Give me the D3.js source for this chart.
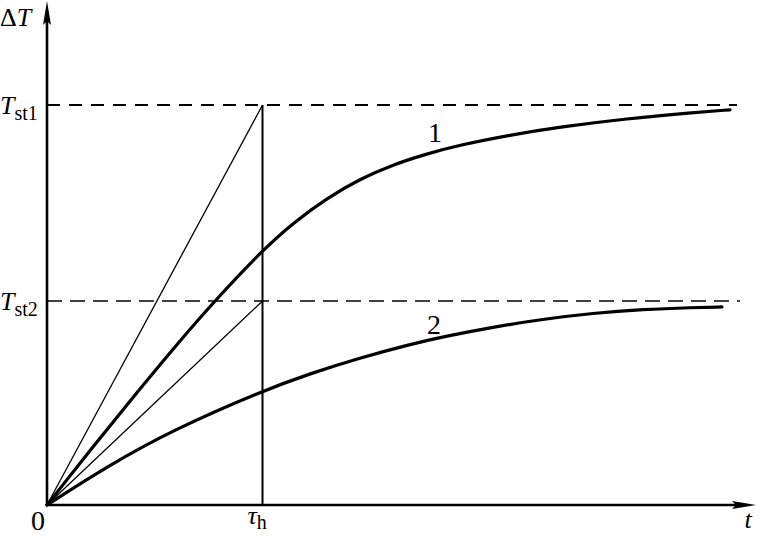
<!DOCTYPE html>
<html>
<head>
<meta charset="utf-8">
<script src="https://cdn.jsdelivr.net/npm/d3@7"></script>
<style>
  body { margin: 0; background: #fff; }
  text { font-family: "Liberation Serif", "DejaVu Serif", serif; fill: #000; }
</style>
</head>
<body>
<svg id="chart" width="765" height="536"></svg>
<script>
// time in units of tau_h, temperature rise in units of T_st1
const tauH = 1
const tAxisEnd = 3.29
const dTAxisEnd = 1.26

const steadyLevels = [
  { sub: "st1", value: 1.0, heavy: true },
  { sub: "st2", value: 0.51, heavy: false }
]

// curve 1
const curve1 = [
  [0, 0], [0.2, 0.137], [0.4, 0.27], [0.6, 0.4], [0.775, 0.5085], [1.0, 0.637],
  [1.141, 0.705], [1.299, 0.767], [1.452, 0.815], [1.606, 0.851], [1.763, 0.878],
  [1.916, 0.90], [2.148, 0.925], [2.38, 0.945], [2.691, 0.966], [2.998, 0.981], [3.169, 0.988]
]

// curve 2
const curve2 = [
  [0, 0], [0.277, 0.096], [0.585, 0.188], [1.0, 0.2855], [1.22, 0.3284], [1.452, 0.3678],
  [1.684, 0.4015], [1.838, 0.4207], [2.07, 0.445], [2.30, 0.4645], [2.534, 0.4797],
  [2.766, 0.489], [2.998, 0.4936], [3.132, 0.4952]
]

const curveLabels = [
  { text: "1", t: 1.80, v: 0.9075 },
  { text: "2", t: 1.796, v: 0.4275 }
]

const svg = d3.select("#chart")

const x = d3.scaleLinear().domain([0, tAxisEnd]).range([47, 756])
const y = d3.scaleLinear().domain([0, dTAxisEnd]).range([505, 1])

const x0 = x(0), y0 = y(0)

// steady-state dashed levels
svg.selectAll(".level")
  .data(steadyLevels)
  .enter()
  .append("line")
  .attr("class", "level")
  .attr("x1", x0)
  .attr("x2", d => d.heavy ? 737 : 740)
  .attr("y1", d => y(d.value))
  .attr("y2", d => y(d.value))
  .attr("stroke", "#000")
  .attr("stroke-width", d => d.heavy ? 2 : 1.5)
  .attr("stroke-dasharray", d => d.heavy ? "13,9" : "15,8")

// tangent lines from the origin to (tau_h, T_st)
svg.selectAll(".tangent")
  .data(steadyLevels)
  .enter()
  .append("line")
  .attr("class", "tangent")
  .attr("x1", x0)
  .attr("y1", y0)
  .attr("x2", x(tauH))
  .attr("y2", d => y(d.value))
  .attr("stroke", "#000")
  .attr("stroke-width", 1.3)

// vertical line at tau_h
svg.append("line")
  .attr("x1", x(tauH)).attr("x2", x(tauH))
  .attr("y1", y0).attr("y2", y(d3.max(steadyLevels, d => d.value)))
  .attr("stroke", "#000")
  .attr("stroke-width", 2)

// curves
const line = d3.line()
  .x(d => x(d[0]))
  .y(d => y(d[1]))
  .curve(d3.curveBasis)

svg.selectAll(".curve")
  .data([curve1, curve2])
  .enter()
  .append("path")
  .attr("class", "curve")
  .attr("d", line)
  .attr("fill", "none")
  .attr("stroke", "#000")
  .attr("stroke-width", 3.2)
  .attr("stroke-linecap", "round")

svg.selectAll(".clabel")
  .data(curveLabels)
  .enter()
  .append("text")
  .attr("class", "clabel")
  .attr("x", d => x(d.t))
  .attr("y", d => y(d.v))
  .attr("text-anchor", "middle")
  .style("font-size", "28px")
  .text(d => d.text)

// axes with arrows
svg.append("line")
  .attr("x1", x0).attr("y1", y0)
  .attr("x2", x0).attr("y2", y(dTAxisEnd) + 10)
  .attr("stroke", "#000").attr("stroke-width", 2.6)
svg.append("line")
  .attr("x1", x0 - 1).attr("y1", y0)
  .attr("x2", x(tAxisEnd) - 10).attr("y2", y0)
  .attr("stroke", "#000").attr("stroke-width", 2.6)

const yTip = [x0, y(dTAxisEnd)]
svg.append("path")
  .attr("d", `M${yTip[0]},${yTip[1]} L${yTip[0] - 4},${yTip[1] + 24} L${yTip[0]},${yTip[1] + 20} L${yTip[0] + 4},${yTip[1] + 24} Z`)
  .attr("fill", "#000")
const xTip = [x(tAxisEnd), y0]
svg.append("path")
  .attr("d", `M${xTip[0]},${xTip[1]} L${xTip[0] - 24},${xTip[1] - 4} L${xTip[0] - 20},${xTip[1]} L${xTip[0] - 24},${xTip[1] + 4} Z`)
  .attr("fill", "#000")

// axis labels
const dT = svg.append("text").attr("x", 0).attr("y", 26).style("font-size", "26px")
dT.append("tspan").text("Δ")
dT.append("tspan").style("font-style", "italic").text("T")

steadyLevels.forEach(d => {
  const t = svg.append("text").attr("x", 0).attr("y", y(d.value) + 9).style("font-size", "26px")
  t.append("tspan").style("font-style", "italic").text("T")
  t.append("tspan").attr("dy", 6).style("font-size", "20px").text(d.sub)
})

svg.append("text")
  .attr("x", x0 - 9).attr("y", y0 + 25)
  .attr("text-anchor", "middle")
  .style("font-size", "28px")
  .text("0")

const tau = svg.append("text").attr("x", x(tauH) - 15).attr("y", y0 + 19).style("font-size", "26px")
tau.append("tspan").style("font-style", "italic").text("τ")
tau.append("tspan").attr("dy", 5).style("font-size", "20px").text("h")

svg.append("text")
  .attr("x", x(tAxisEnd) - 8).attr("y", y0 + 23)
  .attr("text-anchor", "middle")
  .style("font-size", "26px")
  .style("font-style", "italic")
  .text("t")
</script>
</body>
</html>
